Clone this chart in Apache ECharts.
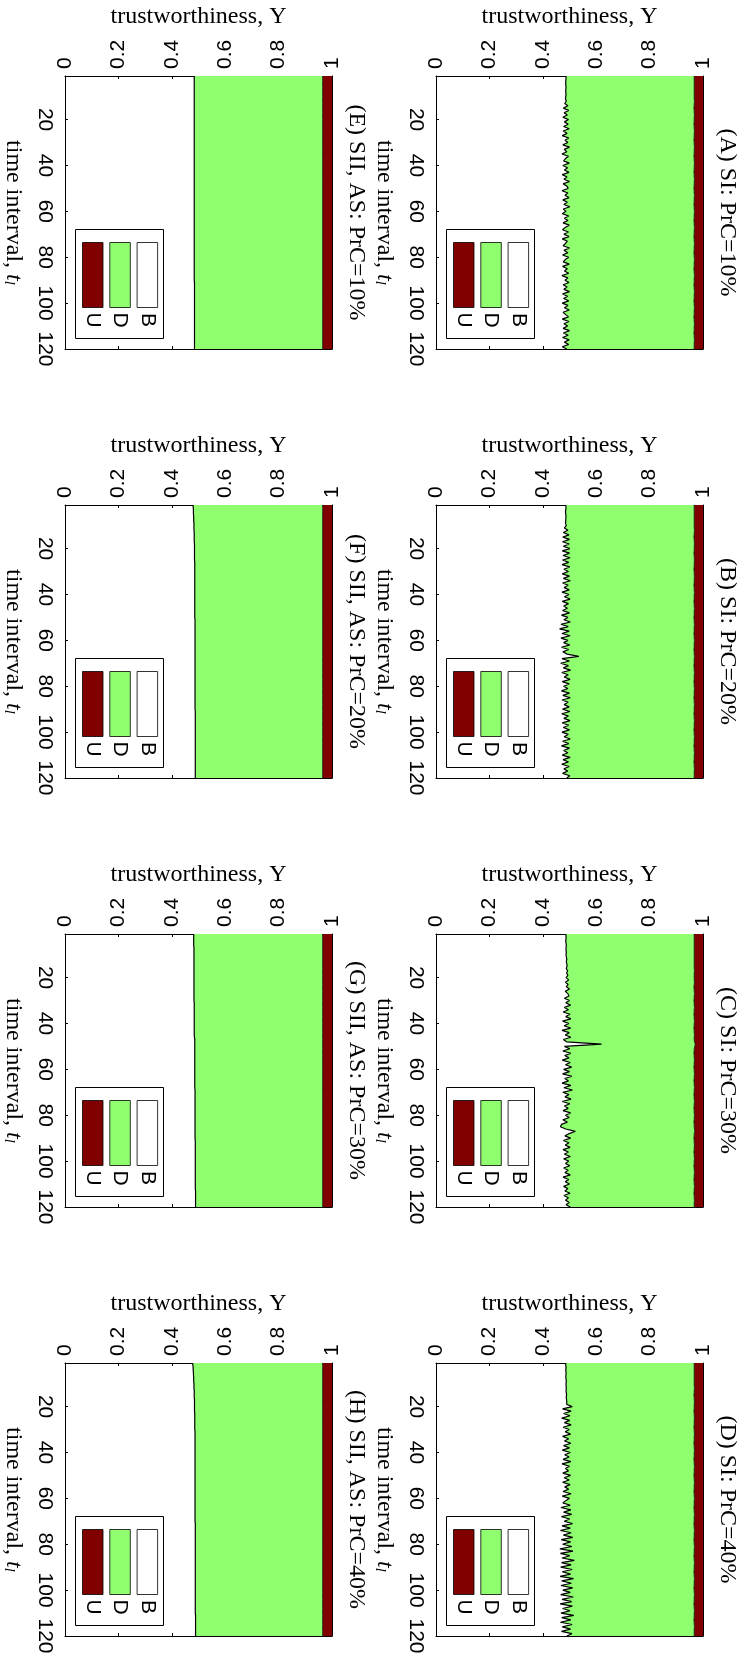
<!DOCTYPE html>
<html>
<head>
<meta charset="utf-8">
<title>trustworthiness over time intervals</title>
<script src="https://cdn.jsdelivr.net/npm/echarts@6/dist/echarts.min.js"></script>
<style>
  html, body { margin: 0; padding: 0; background: #fff; }
  #chart { width: 746px; height: 1661px; }
</style>
</head>
<body>
<div id="chart"></div>
<script>
// categories: time interval t_l = 1..120
const timeIntervals = []
for (let t = 1; t <= 120; t++) timeIntervals.push(String(t))
const timeTicks = [20, 40, 60, 80, 100, 120]
const trustTicks = [0, 0.2, 0.4, 0.6, 0.8, 1]
const legendNames = ['U', 'D', 'B']

const panelTitles = [
  '(A) SI: PrC=10%', '(B) SI: PrC=20%', '(C) SI: PrC=30%', '(D) SI: PrC=40%',
  '(E) SII, AS: PrC=10%', '(F) SII, AS: PrC=20%', '(G) SII, AS: PrC=30%', '(H) SII, AS: PrC=40%',
]

// share of B per time interval
const bSI10 = [
  0.487,0.487,0.486,0.486,0.486,0.487,0.486,0.486,0.487,0.486,0.485,0.488,0.482,0.494,0.477,0.497,0.480,0.492,0.475,0.496,
  0.481,0.495,0.478,0.499,0.476,0.491,0.473,0.497,0.483,0.494,0.475,0.500,0.480,0.490,0.472,0.496,0.485,0.478,0.499,0.475,
  0.493,0.481,0.498,0.473,0.491,0.479,0.500,0.476,0.490,0.495,0.472,0.494,0.483,0.498,0.475,0.492,0.479,0.501,0.477,0.487,
  0.473,0.497,0.481,0.494,0.476,0.499,0.484,0.474,0.496,0.479,0.498,0.473,0.492,0.485,0.476,0.500,0.479,0.494,0.474,0.497,
  0.484,0.477,0.499,0.474,0.492,0.481,0.497,0.472,0.494,0.483,0.498,0.476,0.491,0.479,0.500,0.474,0.493,0.478,0.497,0.473,
  0.494,0.481,0.499,0.476,0.486,0.496,0.473,0.498,0.479,0.493,0.476,0.500,0.477,0.495,0.474,0.499,0.481,0.497,0.473,0.490,
]
const bSI20 = [
  0.486,0.487,0.486,0.485,0.486,0.487,0.486,0.486,0.485,0.488,0.481,0.494,0.477,0.498,0.475,0.500,0.474,0.499,0.477,0.501,
  0.473,0.500,0.476,0.502,0.474,0.497,0.472,0.501,0.479,0.496,0.473,0.500,0.477,0.503,0.474,0.495,0.480,0.499,0.472,0.498,
  0.481,0.502,0.473,0.496,0.478,0.492,0.474,0.500,0.470,0.494,0.479,0.503,0.468,0.495,0.463,0.499,0.472,0.502,0.468,0.494,
  0.478,0.501,0.470,0.497,0.475,0.491,0.535,0.472,0.500,0.467,0.496,0.477,0.504,0.471,0.495,0.480,0.502,0.473,0.499,0.478,
  0.494,0.470,0.500,0.475,0.503,0.472,0.495,0.480,0.499,0.474,0.501,0.471,0.496,0.479,0.502,0.473,0.497,0.477,0.500,0.472,
  0.495,0.480,0.503,0.474,0.497,0.470,0.500,0.478,0.494,0.473,0.502,0.476,0.496,0.471,0.499,0.479,0.493,0.474,0.501,0.490,
]
const bSI30 = [
  0.486,0.487,0.487,0.486,0.487,0.488,0.487,0.487,0.488,0.487,0.488,0.490,0.488,0.490,0.491,0.488,0.493,0.489,0.494,0.487,
  0.497,0.485,0.495,0.488,0.500,0.484,0.494,0.498,0.481,0.500,0.486,0.504,0.481,0.496,0.476,0.502,0.486,0.505,0.474,0.498,
  0.480,0.504,0.472,0.499,0.484,0.505,0.477,0.489,0.620,0.481,0.501,0.475,0.505,0.482,0.498,0.473,0.503,0.485,0.508,0.478,
  0.500,0.474,0.509,0.482,0.496,0.472,0.505,0.479,0.511,0.475,0.498,0.483,0.506,0.473,0.501,0.481,0.495,0.476,0.504,0.485,
  0.499,0.475,0.492,0.470,0.466,0.486,0.522,0.499,0.483,0.504,0.477,0.498,0.484,0.502,0.476,0.496,0.481,0.503,0.478,0.497,
  0.485,0.501,0.478,0.495,0.483,0.503,0.476,0.497,0.484,0.500,0.478,0.494,0.483,0.502,0.479,0.496,0.485,0.499,0.487,0.503,
]
const bSI40 = [
  0.486,0.486,0.487,0.486,0.487,0.487,0.486,0.487,0.488,0.487,0.487,0.488,0.487,0.488,0.489,0.488,0.489,0.490,0.489,0.510,
  0.474,0.506,0.478,0.502,0.471,0.501,0.481,0.506,0.476,0.499,0.484,0.504,0.474,0.497,0.481,0.505,0.478,0.500,0.473,0.503,
  0.482,0.499,0.476,0.505,0.472,0.500,0.485,0.496,0.475,0.504,0.480,0.499,0.474,0.502,0.482,0.497,0.476,0.506,0.473,0.500,
  0.486,0.475,0.503,0.468,0.505,0.478,0.508,0.470,0.501,0.480,0.511,0.472,0.503,0.466,0.506,0.477,0.512,0.469,0.504,0.474,
  0.509,0.464,0.513,0.466,0.501,0.472,0.518,0.470,0.506,0.467,0.510,0.473,0.504,0.465,0.515,0.471,0.507,0.468,0.512,0.475,
  0.503,0.467,0.514,0.472,0.508,0.465,0.511,0.474,0.502,0.468,0.516,0.471,0.505,0.466,0.510,0.473,0.504,0.470,0.509,0.490,
]
const bAS10 = [
  0.484,0.484,0.484,0.484,0.484,0.484,0.484,0.484,0.484,0.484,0.484,0.484,0.484,0.484,0.484,0.484,0.484,0.484,0.484,0.484,
  0.484,0.484,0.484,0.484,0.484,0.484,0.484,0.484,0.484,0.484,0.484,0.484,0.484,0.484,0.484,0.484,0.484,0.484,0.484,0.484,
  0.484,0.484,0.484,0.484,0.484,0.484,0.484,0.484,0.484,0.484,0.484,0.484,0.484,0.484,0.484,0.484,0.484,0.484,0.484,0.484,
  0.484,0.484,0.484,0.484,0.484,0.484,0.484,0.484,0.484,0.484,0.484,0.484,0.484,0.484,0.484,0.484,0.484,0.484,0.484,0.484,
  0.484,0.484,0.484,0.484,0.484,0.484,0.484,0.484,0.484,0.484,0.485,0.485,0.485,0.485,0.485,0.485,0.485,0.485,0.485,0.485,
  0.485,0.485,0.485,0.485,0.485,0.485,0.485,0.485,0.485,0.485,0.485,0.485,0.485,0.485,0.485,0.485,0.485,0.485,0.485,0.485,
]
const bAS20 = [
  0.480,0.480,0.481,0.481,0.481,0.482,0.482,0.482,0.483,0.483,0.483,0.483,0.484,0.484,0.484,0.484,0.484,0.485,0.485,0.485,
  0.485,0.485,0.485,0.485,0.485,0.486,0.486,0.486,0.486,0.486,0.486,0.486,0.486,0.486,0.486,0.486,0.486,0.486,0.486,0.486,
  0.486,0.486,0.486,0.486,0.486,0.486,0.486,0.486,0.486,0.486,0.487,0.487,0.487,0.487,0.487,0.487,0.487,0.487,0.487,0.487,
  0.487,0.487,0.487,0.487,0.487,0.487,0.487,0.487,0.487,0.487,0.487,0.487,0.487,0.487,0.487,0.487,0.487,0.487,0.487,0.487,
  0.487,0.487,0.487,0.487,0.487,0.487,0.487,0.487,0.487,0.487,0.488,0.488,0.488,0.488,0.488,0.488,0.488,0.488,0.488,0.488,
  0.488,0.488,0.488,0.488,0.488,0.488,0.488,0.488,0.488,0.488,0.488,0.488,0.488,0.488,0.488,0.488,0.488,0.488,0.488,0.488,
]
const bAS30 = [
  0.482,0.482,0.482,0.482,0.482,0.482,0.483,0.483,0.483,0.483,0.483,0.483,0.483,0.483,0.483,0.483,0.483,0.483,0.483,0.483,
  0.483,0.483,0.483,0.483,0.483,0.483,0.483,0.483,0.483,0.483,0.484,0.484,0.484,0.484,0.484,0.484,0.484,0.484,0.484,0.484,
  0.484,0.484,0.484,0.484,0.484,0.485,0.486,0.486,0.486,0.486,0.486,0.486,0.486,0.486,0.486,0.486,0.486,0.486,0.486,0.486,
  0.486,0.486,0.486,0.486,0.486,0.486,0.486,0.486,0.487,0.487,0.487,0.487,0.487,0.487,0.487,0.487,0.487,0.487,0.487,0.487,
  0.487,0.487,0.487,0.487,0.487,0.487,0.487,0.487,0.487,0.487,0.488,0.488,0.488,0.488,0.488,0.488,0.488,0.488,0.488,0.488,
  0.488,0.488,0.488,0.488,0.488,0.488,0.488,0.488,0.488,0.488,0.488,0.488,0.489,0.489,0.489,0.489,0.489,0.489,0.489,0.489,
]
const bAS40 = [
  0.478,0.479,0.480,0.480,0.481,0.481,0.482,0.482,0.482,0.483,0.483,0.483,0.484,0.484,0.484,0.484,0.485,0.485,0.485,0.485,
  0.485,0.485,0.486,0.486,0.486,0.486,0.486,0.486,0.486,0.486,0.487,0.487,0.487,0.487,0.487,0.487,0.487,0.487,0.487,0.487,
  0.487,0.487,0.487,0.487,0.487,0.487,0.487,0.487,0.487,0.487,0.487,0.487,0.487,0.487,0.487,0.487,0.487,0.487,0.487,0.487,
  0.487,0.487,0.487,0.487,0.487,0.487,0.487,0.487,0.487,0.487,0.488,0.488,0.488,0.488,0.488,0.488,0.488,0.488,0.488,0.488,
  0.488,0.488,0.488,0.488,0.488,0.488,0.488,0.488,0.488,0.488,0.488,0.488,0.488,0.488,0.488,0.488,0.488,0.488,0.488,0.488,
  0.488,0.488,0.488,0.488,0.488,0.488,0.488,0.488,0.488,0.488,0.489,0.489,0.489,0.489,0.489,0.489,0.489,0.489,0.489,0.489,
]

// share of U per time interval
const uSI = [
  0.033,0.033,0.033,0.033,0.033,0.033,0.033,0.033,0.033,0.033,0.033,0.032,0.033,0.033,0.034,0.033,0.033,0.032,0.033,0.033,
  0.033,0.034,0.033,0.033,0.032,0.033,0.033,0.033,0.034,0.033,0.033,0.032,0.033,0.033,0.033,0.034,0.033,0.033,0.032,0.033,
  0.033,0.033,0.034,0.033,0.033,0.032,0.033,0.033,0.033,0.034,0.033,0.033,0.032,0.033,0.033,0.033,0.034,0.033,0.033,0.032,
  0.033,0.033,0.033,0.034,0.033,0.033,0.032,0.033,0.033,0.033,0.034,0.033,0.033,0.032,0.033,0.033,0.033,0.034,0.033,0.033,
  0.032,0.033,0.033,0.033,0.034,0.033,0.033,0.032,0.033,0.033,0.033,0.034,0.033,0.033,0.032,0.033,0.033,0.033,0.034,0.033,
  0.033,0.032,0.033,0.033,0.033,0.034,0.033,0.033,0.032,0.033,0.033,0.033,0.034,0.033,0.033,0.032,0.033,0.033,0.033,0.033,
]
const uSI30 = [
  0.033,0.033,0.033,0.033,0.033,0.033,0.033,0.033,0.033,0.033,0.033,0.033,0.033,0.033,0.033,0.033,0.032,0.033,0.033,0.033,
  0.033,0.032,0.033,0.034,0.033,0.033,0.032,0.033,0.033,0.034,0.033,0.033,0.032,0.033,0.033,0.034,0.033,0.033,0.032,0.033,
  0.033,0.034,0.033,0.033,0.032,0.033,0.033,0.032,0.029,0.031,0.033,0.033,0.034,0.033,0.033,0.032,0.033,0.033,0.034,0.033,
  0.033,0.032,0.033,0.033,0.034,0.033,0.033,0.032,0.033,0.033,0.034,0.033,0.033,0.032,0.033,0.033,0.034,0.033,0.033,0.032,
  0.033,0.033,0.034,0.033,0.033,0.032,0.031,0.033,0.033,0.034,0.033,0.033,0.032,0.033,0.033,0.034,0.033,0.033,0.032,0.033,
  0.033,0.034,0.033,0.033,0.032,0.033,0.033,0.034,0.033,0.033,0.032,0.033,0.033,0.034,0.033,0.033,0.032,0.033,0.033,0.033,
]
const uAS = [
  0.035,0.035,0.035,0.035,0.035,0.035,0.035,0.035,0.035,0.035,0.035,0.035,0.035,0.035,0.035,0.035,0.035,0.035,0.035,0.035,
  0.035,0.035,0.035,0.035,0.035,0.035,0.035,0.035,0.035,0.035,0.035,0.035,0.035,0.035,0.035,0.035,0.035,0.035,0.035,0.035,
  0.035,0.035,0.035,0.035,0.035,0.035,0.035,0.035,0.035,0.035,0.035,0.035,0.035,0.035,0.035,0.035,0.035,0.035,0.035,0.035,
  0.035,0.035,0.035,0.035,0.035,0.035,0.035,0.035,0.035,0.035,0.035,0.035,0.035,0.035,0.035,0.035,0.035,0.035,0.035,0.035,
  0.035,0.035,0.035,0.035,0.035,0.035,0.035,0.035,0.035,0.035,0.035,0.035,0.035,0.035,0.035,0.035,0.035,0.035,0.035,0.035,
  0.035,0.035,0.035,0.035,0.035,0.035,0.035,0.035,0.035,0.035,0.035,0.035,0.035,0.035,0.035,0.035,0.035,0.035,0.035,0.035,
]

const bData = [bSI10, bSI20, bSI30, bSI40, bAS10, bAS20, bAS30, bAS40]
const uData = [uSI, uSI, uSI30, uSI, uAS, uAS, uAS, uAS]

const colorU = '#800000'
const colorD = '#8fff6f'
const serif = 'Liberation Serif'
const sans = 'Liberation Sans'

// panel layout (page is a rotated figure: right column A-D, left column E-H)
const colLeft = [436, 65]
const rowTop = [76, 505, 934, 1363]
const plotW = 267
const plotH = 273

const isTimeTick = (i, v) => timeTicks.indexOf(Number(v)) >= 0

const grids = []
const xAxes = []
const yAxes = []
const series = []
const graphics = []

panelTitles.forEach((title, i) => {
  const L = colLeft[Math.floor(i / 4)]
  const T = rowTop[i % 4]
  grids.push({ left: L, top: T, width: plotW, height: plotH, containLabel: false })

  const valAxis = {
    type: 'value',
    gridIndex: i,
    min: trustTicks[0],
    max: trustTicks[trustTicks.length - 1],
    interval: trustTicks[1] - trustTicks[0],
    splitLine: { show: false },
    axisLine: { show: true, onZero: false, lineStyle: { color: '#000', width: 1 } },
    axisTick: { show: true, inside: true, length: 3, lineStyle: { color: '#000' } },
  }
  // top axis with labels (trustworthiness)
  xAxes.push(Object.assign({}, valAxis, {
    position: 'top',
    name: 'trustworthiness, Υ',
    nameLocation: 'middle',
    nameGap: 47,
    nameTextStyle: { fontFamily: serif, fontSize: 24, color: '#000' },
    axisLabel: { rotate: -90, margin: 7, fontFamily: sans, fontSize: 21, color: '#000' },
  }))
  // bottom mirror axis, ticks only
  xAxes.push(Object.assign({}, valAxis, {
    position: 'bottom',
    axisLabel: { show: false },
  }))

  const catAxis = {
    type: 'category',
    gridIndex: i,
    data: timeIntervals,
    inverse: true,
    boundaryGap: false,
    axisLine: { show: true, onZero: false, lineStyle: { color: '#000', width: 1 } },
    axisTick: { show: true, inside: true, length: 3, interval: isTimeTick, lineStyle: { color: '#000' } },
    splitLine: { show: false },
  }
  yAxes.push(Object.assign({}, catAxis, {
    position: 'left',
    name: 'time interval, {it|t}{sub|l}',
    nameLocation: 'middle',
    nameRotate: -90,
    nameGap: 40,
    nameTextStyle: {
      fontFamily: serif, fontSize: 24, color: '#000',
      rich: {
        it: { fontFamily: serif, fontSize: 24, fontStyle: 'italic', color: '#000' },
        sub: { fontFamily: serif, fontSize: 15, fontStyle: 'italic', color: '#000', lineHeight: 12, verticalAlign: 'bottom' },
      },
    },
    axisLabel: { rotate: -90, margin: 10, interval: isTimeTick, fontFamily: sans, fontSize: 21, color: '#000' },
  }))
  // right mirror axis carries the panel title
  yAxes.push(Object.assign({}, catAxis, {
    position: 'right',
    name: title,
    nameLocation: 'middle',
    nameRotate: -90,
    nameGap: 12,
    nameTextStyle: { fontFamily: serif, fontSize: 24, color: '#000' },
    axisLabel: { show: false },
  }))

  const b = bData[i]
  const u = uData[i]
  const d = b.map((v, k) => +(1 - v - u[k]).toFixed(4))
  const common = {
    type: 'line',
    xAxisIndex: 2 * i,
    yAxisIndex: 2 * i,
    stack: 'p' + i,
    symbol: 'none',
    silent: true,
  }
  series.push(Object.assign({}, common, { name: 'B', data: b, z: 5, lineStyle: { color: '#000', width: 1.2 } }))
  series.push(Object.assign({}, common, { name: 'D', data: d, z: 4, lineStyle: { color: '#000', width: 0.8 }, areaStyle: { color: colorD, opacity: 1 } }))
  series.push(Object.assign({}, common, { name: 'U', data: u, z: 3, lineStyle: { width: 0 }, areaStyle: { color: colorU, opacity: 1 } }))

  // legend box (bottom-left of each rotated panel)
  graphics.push({
    type: 'rect',
    shape: { x: L + 10.5, y: T + 153.5, width: 88, height: 109 },
    style: { fill: '#fff', stroke: '#000', lineWidth: 1 },
    z: 100,
  })
  const swatchColors = [colorU, colorD, '#fff']
  legendNames.forEach((nm, k) => {
    const sx = L + 17.5 + k * 27.3
    graphics.push({
      type: 'rect',
      shape: { x: sx, y: T + 166.5, width: 20.5, height: 65 },
      style: { fill: swatchColors[k], stroke: '#000', lineWidth: 0.8 },
      z: 101,
    })
    graphics.push({
      type: 'text',
      x: sx + 10.25,
      y: T + 244,
      rotation: -Math.PI / 2,
      style: {
        text: nm, fill: '#000', fontFamily: sans, fontSize: 21,
        align: 'center', verticalAlign: 'middle', textAlign: 'center', textVerticalAlign: 'middle',
      },
      z: 101,
    })
  })
})

const chart = echarts.init(document.getElementById('chart'), null, { renderer: 'canvas' })
chart.setOption({
  animation: false,
  backgroundColor: '#fff',
  grid: grids,
  xAxis: xAxes,
  yAxis: yAxes,
  series: series,
  graphic: graphics,
})
</script>
</body>
</html>
